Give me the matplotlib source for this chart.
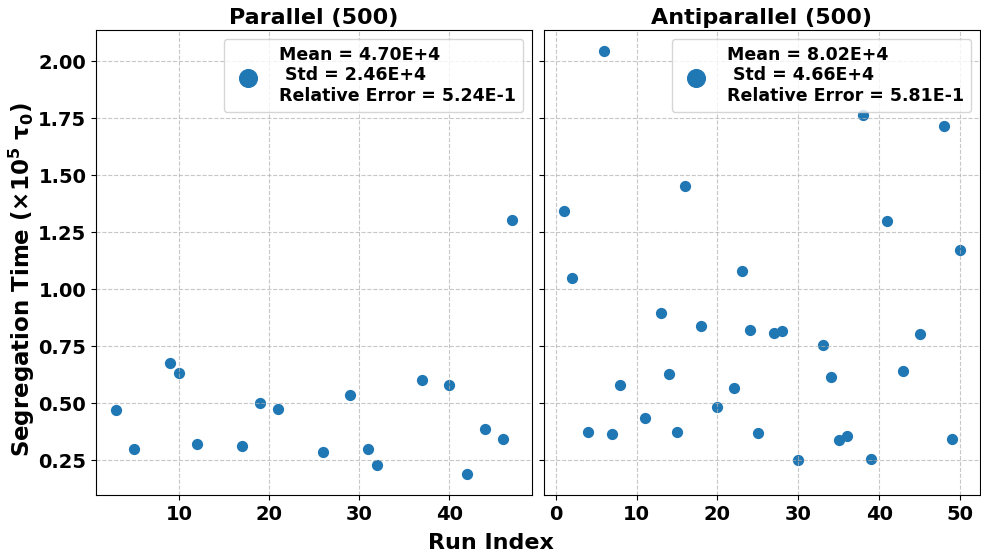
import matplotlib.pyplot as plt

# run index / segregation time (units of 1e5 tau_0)
par_runs = [3, 5, 9, 10, 12, 17, 19, 21, 26, 29, 31, 32, 37, 40, 42, 44, 46, 47]
par_times = [0.471, 0.301, 0.678, 0.633, 0.322, 0.311, 0.503, 0.475, 0.284,
             0.535, 0.298, 0.231, 0.602, 0.579, 0.190, 0.386, 0.342, 1.303]

anti_runs = [1, 2, 4, 6, 7, 8, 11, 13, 14, 15, 16, 18, 20, 22, 23, 24, 25,
             27, 28, 30, 33, 34, 35, 36, 38, 39, 41, 43, 45, 48, 49, 50]
anti_times = [1.343, 1.050, 0.374, 2.045, 0.365, 0.580, 0.434, 0.896, 0.627,
              0.374, 1.453, 0.839, 0.482, 0.567, 1.080, 0.822, 0.368, 0.810,
              0.816, 0.251, 0.757, 0.615, 0.339, 0.357, 1.763, 0.257, 1.300,
              0.640, 0.803, 1.718, 0.343, 1.172]

titles = ["Parallel (500)", "Antiparallel (500)"]
stats = [("4.70E+4", "2.46E+4", "5.24E-1"),
         ("8.02E+4", "4.66E+4", "5.81E-1")]

fig = plt.figure(figsize=(9.81, 5.58), dpi=100)
ax1 = fig.add_axes([0.0979, 0.1129, 0.4444, 0.8333])
ax2 = fig.add_axes([0.5545, 0.1129, 0.4444, 0.8333], sharey=ax1)

for ax, x, y, title, st in zip([ax1, ax2], [par_runs, anti_runs],
                               [par_times, anti_times], titles, stats):
    label = "Mean = %s\n Std = %s\nRelative Error = %s" % st
    ax.scatter(x, y, s=50, color="#1f77b4", label=label)
    ax.set_title(title, fontsize=16, fontweight="bold", pad=4)
    ax.grid(True, linestyle="--", alpha=0.7)
    ax.tick_params(labelsize=14)
    ax.legend(loc="upper right", markerscale=1.8,
              prop={"size": 12.5, "weight": "bold"})

ax1.set_xticks([10, 20, 30, 40])
ax2.set_xticks([0, 10, 20, 30, 40, 50])
ax1.set_yticks([0.25, 0.5, 0.75, 1.0, 1.25, 1.5, 1.75, 2.0])
plt.setp(ax2.get_yticklabels(), visible=False)
for t in ax1.get_xticklabels() + ax1.get_yticklabels() + ax2.get_xticklabels():
    t.set_fontweight("bold")

fig.text(0.022, 0.5, r"Segregation Time ($\mathbf{\times 10^5}$ $\mathbf{\tau_0}$)",
         rotation=90, ha="center", va="center", fontsize=16.5, fontweight="bold")
fig.text(0.5, 0.027, "Run Index", ha="center", va="center",
         fontsize=16, fontweight="bold")

fig.savefig("out.png", dpi=100)
